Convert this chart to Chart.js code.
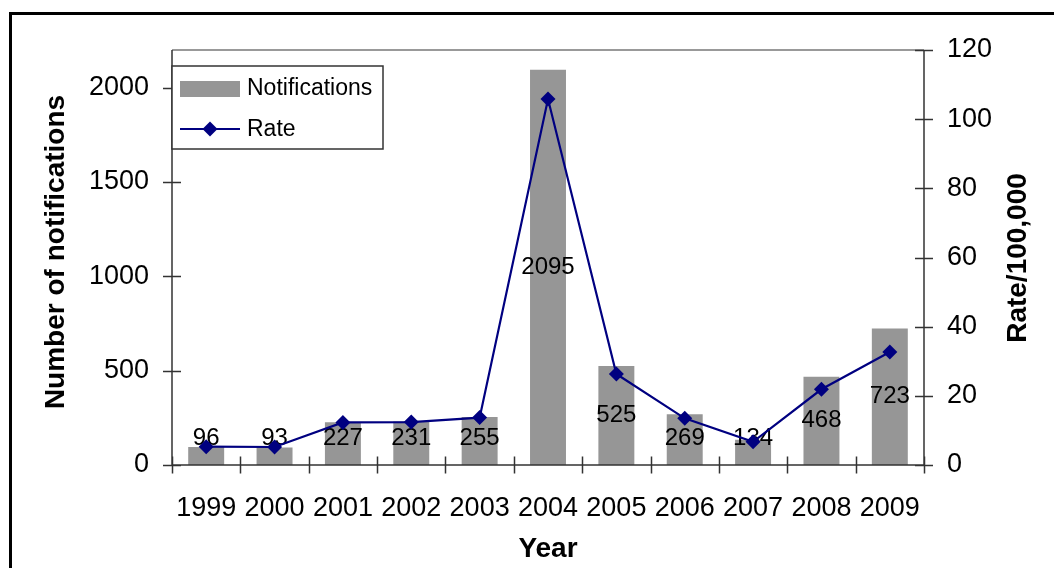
<!DOCTYPE html>
<html>
<head>
<meta charset="utf-8">
<script src="https://cdn.jsdelivr.net/npm/chart.js@4.4.1/dist/chart.umd.min.js"></script>
<style>
  html, body { margin: 0; padding: 0; background: #fff; }
  #wrap { width: 1054px; height: 568px; position: relative; }
</style>
</head>
<body>
<div id="wrap"><canvas id="c" width="1054" height="568"></canvas></div>
<script>
// Notifications and rate per 100,000 by year
const years = ['1999', '2000', '2001', '2002', '2003', '2004', '2005', '2006', '2007', '2008', '2009'];
const notifications = [96, 93, 227, 231, 255, 2095, 525, 269, 134, 468, 723];
const rates = [5.3, 5.2, 12.3, 12.4, 13.7, 105.8, 26.3, 13.5, 6.7, 21.9, 32.7];

const countTicks = [0, 500, 1000, 1500, 2000];
const rateTicks = [0, 20, 40, 60, 80, 100, 120];
const countMax = 2200;
const rateMax = 120;

const seriesNames = ['Notifications', 'Rate'];
const axisTitles = { x: 'Year', y: 'Number of notifications', y1: 'Rate/100,000' };

const FONT = '"Liberation Sans", Arial, Helvetica, sans-serif';
const BAR_COLOR = '#969696';
const LINE_COLOR = '#000080';
const AXIS_COLOR = '#333333';

const decor = {
  id: 'decor',
  beforeDraw(chart) {
    const { ctx, width, height, chartArea: a } = chart;
    ctx.save();
    ctx.fillStyle = '#fff';
    ctx.fillRect(0, 0, width, height);
    // outer frame
    ctx.strokeStyle = '#000';
    ctx.lineWidth = 3;
    ctx.beginPath();
    ctx.moveTo(10.5, height + 10);
    ctx.lineTo(10.5, 13.5);
    ctx.lineTo(width + 10, 13.5);
    ctx.stroke();
    // plot area top edge
    ctx.strokeStyle = '#999';
    ctx.lineWidth = 2;
    ctx.beginPath();
    ctx.moveTo(a.left, a.top);
    ctx.lineTo(a.right, a.top);
    ctx.stroke();
    ctx.restore();
  },
  afterDatasetDraw(chart, args) {
    if (args.index !== 0) return;
    const { ctx } = chart;
    const meta = chart.getDatasetMeta(0);
    ctx.save();
    ctx.font = '24px ' + FONT;
    ctx.fillStyle = '#000';
    ctx.textAlign = 'center';
    ctx.textBaseline = 'middle';
    meta.data.forEach((bar, i) => {
      const mid = (bar.y + bar.base) / 2;
      const y = Math.min(mid, bar.base - 27);
      ctx.fillText(String(notifications[i]), bar.x, y);
    });
    ctx.restore();
  },
  afterDraw(chart) {
    const { ctx, chartArea: a, scales } = chart;
    ctx.save();
    ctx.strokeStyle = AXIS_COLOR;
    ctx.lineWidth = 1.5;
    ctx.beginPath();
    // axis lines
    ctx.moveTo(a.left, a.top); ctx.lineTo(a.left, a.bottom);
    ctx.moveTo(a.right, a.top); ctx.lineTo(a.right, a.bottom);
    ctx.moveTo(a.left, a.bottom); ctx.lineTo(a.right, a.bottom);
    // tick marks crossing the axes
    scales.y.ticks.forEach(t => {
      const py = Math.round(scales.y.getPixelForValue(t.value)) + 0.5;
      ctx.moveTo(a.left - 9, py); ctx.lineTo(a.left + 9, py);
    });
    scales.y1.ticks.forEach(t => {
      const py = Math.round(scales.y1.getPixelForValue(t.value)) + 0.5;
      ctx.moveTo(a.right - 9, py); ctx.lineTo(a.right + 9, py);
    });
    const n = years.length;
    for (let i = 0; i <= n; i++) {
      const px = Math.round(scales.x.left + i * scales.x.width / n) + 0.5;
      ctx.moveTo(px, a.bottom - 8.5); ctx.lineTo(px, a.bottom + 8.5);
    }
    ctx.stroke();

    // legend
    const lx = 172, ly = 66, lw = 211, lh = 83;
    ctx.fillStyle = '#fff';
    ctx.fillRect(lx, ly, lw, lh);
    ctx.strokeStyle = AXIS_COLOR;
    ctx.lineWidth = 1.5;
    ctx.strokeRect(lx, ly, lw, lh);
    ctx.fillStyle = BAR_COLOR;
    ctx.fillRect(180, 81, 60, 16);
    ctx.strokeStyle = LINE_COLOR;
    ctx.lineWidth = 2;
    ctx.beginPath();
    ctx.moveTo(180, 129); ctx.lineTo(240, 129);
    ctx.stroke();
    ctx.fillStyle = LINE_COLOR;
    ctx.beginPath();
    ctx.moveTo(210, 121.5); ctx.lineTo(217.5, 129); ctx.lineTo(210, 136.5); ctx.lineTo(202.5, 129);
    ctx.closePath();
    ctx.fill();
    ctx.fillStyle = '#000';
    ctx.font = '23px ' + FONT;
    ctx.textAlign = 'left';
    ctx.textBaseline = 'middle';
    ctx.fillText(seriesNames[0], 247, 89);
    ctx.fillText(seriesNames[1], 247, 130);

    // axis titles
    ctx.font = 'bold 28px ' + FONT;
    ctx.textAlign = 'center';
    ctx.textBaseline = 'middle';
    ctx.fillText(axisTitles.x, (a.left + a.right) / 2, 549);
    ctx.save();
    ctx.translate(56, 252);
    ctx.rotate(-Math.PI / 2);
    ctx.fillText(axisTitles.y, 0, 0);
    ctx.restore();
    ctx.save();
    ctx.translate(1018, 258);
    ctx.rotate(-Math.PI / 2);
    ctx.fillText(axisTitles.y1, 0, 0);
    ctx.restore();
    ctx.restore();
  }
};

const tickFont = { family: FONT, size: 27 };
const plainLabel = v => String(v);

new Chart(document.getElementById('c'), {
  data: {
    labels: years,
    datasets: [
      {
        type: 'bar',
        label: seriesNames[0],
        data: notifications,
        yAxisID: 'y',
        backgroundColor: BAR_COLOR,
        borderWidth: 0,
        barPercentage: 0.526,
        categoryPercentage: 1.0,
        order: 2
      },
      {
        type: 'line',
        label: seriesNames[1],
        data: rates,
        yAxisID: 'y1',
        borderColor: LINE_COLOR,
        borderWidth: 2.2,
        tension: 0,
        pointStyle: 'rectRot',
        pointRadius: 7.5,
        pointBackgroundColor: LINE_COLOR,
        pointBorderColor: LINE_COLOR,
        pointBorderWidth: 0,
        order: 1
      }
    ]
  },
  options: {
    responsive: false,
    devicePixelRatio: 1,
    animation: false,
    layout: { padding: { top: 50, left: 0, right: 0, bottom: 0 } },
    plugins: { legend: { display: false }, tooltip: { enabled: false } },
    scales: {
      x: {
        type: 'category',
        offset: true,
        grid: { display: false, drawTicks: false },
        border: { display: false },
        ticks: { color: '#000', font: tickFont, padding: 27, maxRotation: 0, autoSkip: false },
        afterFit(s) { s.height = 568 - 465; }
      },
      y: {
        position: 'left',
        min: 0,
        max: countMax,
        grid: { display: false, drawTicks: false },
        border: { display: false },
        ticks: { color: '#000', font: tickFont, padding: 23, callback: plainLabel },
        afterBuildTicks(s) { s.ticks = countTicks.map(v => ({ value: v })); },
        afterFit(s) { s.width = 172; }
      },
      y1: {
        position: 'right',
        min: 0,
        max: rateMax,
        grid: { display: false, drawTicks: false },
        border: { display: false },
        ticks: { color: '#000', font: tickFont, padding: 23, callback: plainLabel },
        afterBuildTicks(s) { s.ticks = rateTicks.map(v => ({ value: v })); },
        afterFit(s) { s.width = 1054 - 924; }
      }
    }
  },
  plugins: [decor]
});
</script>
</body>
</html>
